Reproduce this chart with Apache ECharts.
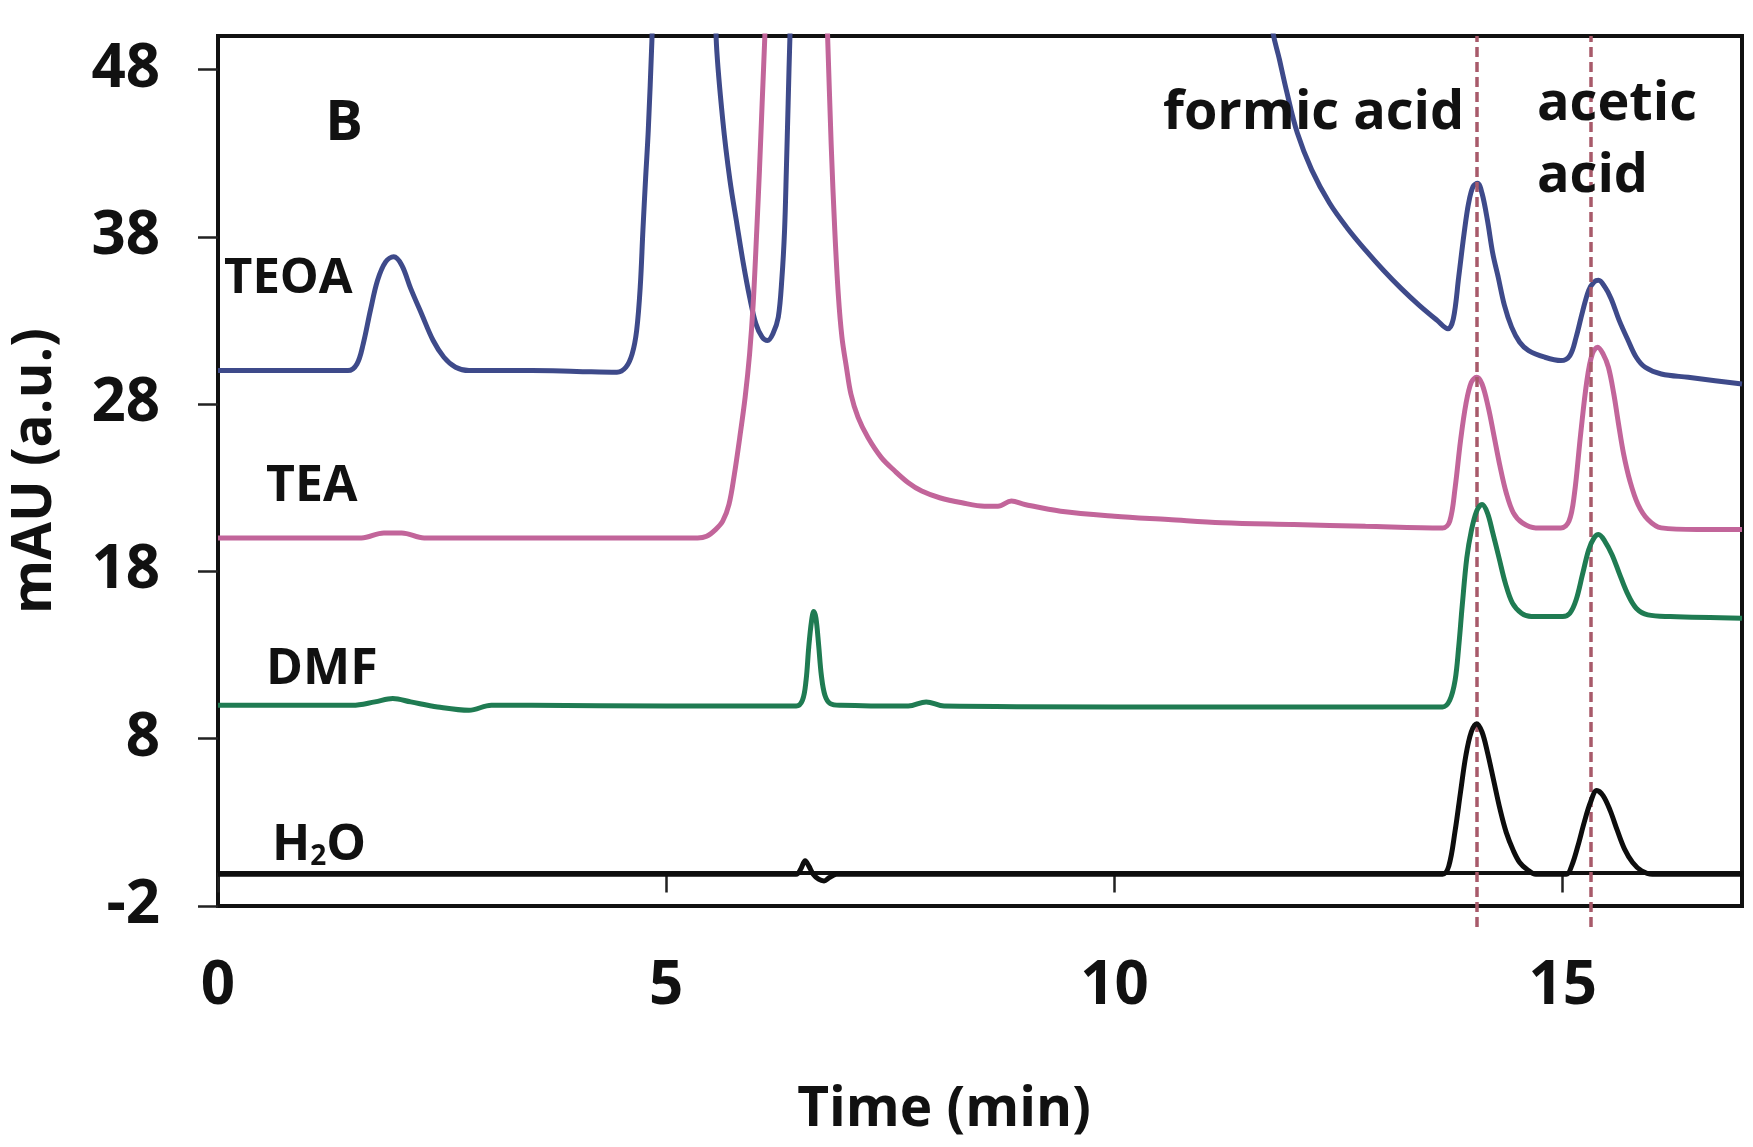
<!DOCTYPE html>
<html>
<head>
<meta charset="utf-8">
<script src="https://cdn.jsdelivr.net/npm/echarts@6/dist/echarts.min.js"></script>
<style>
html,body{margin:0;padding:0;background:#fff;}
#chart{width:1753px;height:1147px;}
</style>
</head>
<body>
<div id="chart"></div>
<script>
// ---- data (time in min, signal in mAU, offsets as plotted) ----
const xTicks = [0, 5, 10, 15];
const yTicks = [-2, 8, 18, 28, 38, 48];
const markerTimes = [14.05, 15.32];

const teoaTime = [0, 1.45, 1.55, 1.62, 1.70, 1.78, 1.87, 1.96, 2.05, 2.15, 2.27, 2.40, 2.52, 2.65, 2.80, 3.5, 4.0, 4.45, 4.55, 4.62, 4.67, 4.71, 4.74, 4.77, 4.80, 4.84, 4.88,
  5.52, 5.56, 5.63, 5.71, 5.79, 5.86, 5.93, 6.00, 6.07, 6.13, 6.19, 6.25, 6.29, 6.32, 6.34, 6.36, 6.38, 6.42,
  11.70, 11.76, 11.84, 11.92, 12.04, 12.20, 12.40, 12.60, 12.80, 13.00, 13.20, 13.40, 13.60, 13.72, 13.78, 13.84, 13.90, 13.95, 14.00, 14.05, 14.10, 14.16, 14.22, 14.28, 14.35, 14.43, 14.52, 14.62, 14.80, 14.98,
  15.08, 15.15, 15.22, 15.29, 15.35, 15.40, 15.47, 15.54, 15.63, 15.73, 15.82, 15.92, 16.10, 16.40, 16.70, 17.0];
const teoaSignal = [30.0, 30.0, 30.4, 31.6, 33.6, 35.4, 36.5, 36.8, 36.3, 34.9, 33.4, 31.8, 30.8, 30.2, 30.0, 30.0, 29.95, 29.9, 30.2, 31.0, 32.4, 35.0, 38.4, 41.5, 44.4, 49.7, 56,
  56, 49.5, 45.0, 41.4, 38.7, 36.4, 34.4, 32.8, 32.0, 31.8, 32.2, 33.2, 35.5, 38.4, 42, 46, 50, 56,
  56, 50.5, 48.6, 46.7, 44.2, 42.0, 40.0, 38.5, 37.2, 36.0, 34.9, 33.9, 33.0, 32.5, 33.1, 35.6, 38.2, 40.0, 41.0, 41.2, 40.6, 39.0, 37.0, 35.6, 33.9, 32.6, 31.7, 31.2, 30.8, 30.6,
  30.9, 32.0, 33.5, 34.8, 35.3, 35.4, 35.0, 34.3, 33.0, 31.8, 30.8, 30.2, 29.8, 29.6, 29.4, 29.2];

const teaTime = [0, 1.6, 1.85, 2.05, 2.3, 5.35, 5.45, 5.55, 5.63, 5.70, 5.76, 5.82, 5.88, 5.93, 5.97, 6.01, 6.04, 6.07, 6.10, 6.14,
  6.76, 6.80, 6.84, 6.88, 6.92, 6.96, 7.01, 7.06, 7.14, 7.25, 7.40, 7.55, 7.70, 7.85, 8.05, 8.30, 8.55, 8.70, 8.85, 9.00, 9.40, 10.0, 10.6, 11.2, 12.0, 12.8, 13.66,
  13.74, 13.80, 13.86, 13.92, 13.98, 14.04, 14.10, 14.17, 14.23, 14.30, 14.37, 14.45, 14.55, 14.70, 14.98,
  15.07, 15.13, 15.20, 15.27, 15.33, 15.39, 15.45, 15.51, 15.57, 15.62, 15.68, 15.75, 15.84, 15.95, 16.10, 16.50, 17.0];
const teaSignal = [20.0, 20.0, 20.3, 20.3, 20.0, 20.0, 20.1, 20.5, 21.0, 22.0, 23.8, 26.0, 28.4, 31.0, 34.0, 38.4, 42.0, 46.0, 50.0, 56,
  56, 50, 43.5, 38.4, 34.5, 32.0, 30.2, 28.6, 27.2, 26.0, 24.8, 24.0, 23.3, 22.8, 22.4, 22.1, 21.9, 21.9, 22.2, 22.0, 21.6, 21.3, 21.1, 20.9, 20.8, 20.7, 20.6,
  21.0, 23.0, 25.8, 28.0, 29.3, 29.6, 29.2, 27.8, 26.2, 24.3, 22.7, 21.5, 20.9, 20.6, 20.6,
  21.0, 22.6, 26.2, 29.4, 31.0, 31.4, 31.0, 30.2, 28.6, 26.9, 25.0, 23.4, 22.0, 21.1, 20.6, 20.5, 20.5];

const dmfTime = [0, 1.5, 1.75, 1.95, 2.15, 2.45, 2.8, 3.05, 3.5, 5.0, 6.45, 6.52, 6.56, 6.59, 6.62, 6.645, 6.67, 6.70, 6.73, 6.77, 6.83, 6.95, 7.7, 7.9, 8.1, 10.0, 13.66,
  13.74, 13.80, 13.84, 13.88, 13.93, 13.98, 14.04, 14.10, 14.16, 14.22, 14.29, 14.36, 14.44, 14.54, 14.65, 15.00,
  15.08, 15.15, 15.22, 15.29, 15.35, 15.40, 15.47, 15.55, 15.63, 15.72, 15.82, 15.95, 16.2, 17.0];
const dmfSignal = [10.0, 10.0, 10.2, 10.4, 10.2, 9.9, 9.7, 10.0, 10.0, 9.95, 9.95, 10.3, 11.5, 13.5, 15.0, 15.6, 15.2, 13.6, 11.8, 10.6, 10.1, 10.0, 9.95, 10.2, 9.95, 9.9, 9.9,
  10.3, 11.5, 13.5, 16.0, 18.8, 20.4, 21.6, 22.0, 21.5, 20.3, 18.8, 17.3, 16.1, 15.5, 15.3, 15.3,
  15.5, 16.3, 17.8, 19.3, 20.0, 20.2, 19.8, 19.0, 17.9, 16.7, 15.8, 15.4, 15.3, 15.2];

const waterTime = [0, 6.45, 6.50, 6.55, 6.59, 6.64, 6.70, 6.76, 6.82, 6.90, 13.66,
  13.73, 13.80, 13.86, 13.92, 13.98, 14.04, 14.10, 14.16, 14.23, 14.30, 14.37, 14.45, 14.52, 14.60, 14.70, 15.04,
  15.10, 15.17, 15.24, 15.31, 15.38, 15.45, 15.53, 15.61, 15.69, 15.78, 15.88, 16.0, 17.0];
const waterSignal = [-0.1, -0.1, 0.2, 0.7, 0.4, -0.1, -0.4, -0.5, -0.3, -0.1, -0.1,
  0.4, 2.5, 4.8, 7.0, 8.4, 8.9, 8.4, 7.2, 5.5, 3.8, 2.4, 1.3, 0.6, 0.2, -0.1, -0.1,
  0.4, 1.6, 3.0, 4.2, 4.9, 4.6, 3.7, 2.5, 1.4, 0.6, 0.1, -0.1, -0.1];

const seriesNames = ['TEOA', 'TEA', 'DMF', 'H2O'];
const seriesColors = ['#3e4a8a', '#c2659a', '#1f7b52', '#0d0d0d'];

// ---- chart ----
const FONT = '"Open Sans", Lato, sans-serif';
const zip = (a, b) => a.map((t, i) => [t, b[i]]);
const allData = [zip(teoaTime, teoaSignal), zip(teaTime, teaSignal), zip(dmfTime, dmfSignal), zip(waterTime, waterSignal)];

const chart = echarts.init(document.getElementById('chart'), null, {renderer: 'canvas'});

const lineSeries = allData.map((d, i) => ({
  name: seriesNames[i],
  type: 'line',
  xAxisIndex: 0, yAxisIndex: 0,
  data: d,
  showSymbol: false,
  smooth: 0.35,
  clip: true,
  lineStyle: {color: seriesColors[i], width: 5},
  itemStyle: {color: seriesColors[i]},
  z: 3 + i
}));

// reference lines live on an overlay grid whose y range reaches a little below the axis
const markerSeries = {
  type: 'line',
  xAxisIndex: 1, yAxisIndex: 1,
  data: [],
  silent: true,
  z: 10,
  markLine: {
    symbol: 'none',
    silent: true,
    label: {show: false},
    lineStyle: {color: '#a85a6a', width: 3.5, type: [10, 5], opacity: 1},
    data: markerTimes.map(t => [{coord: [t, -3.25]}, {coord: [t, 50]}])
  }
};

const axisText = {fontFamily: FONT, fontWeight: 'bold', color: '#111'};

const option = {
  backgroundColor: '#fff',
  animation: false,
  grid: [
    {left: 216, right: 11, top: 36, bottom: 241, show: true, borderColor: '#111', borderWidth: 4, backgroundColor: 'transparent'},
    {left: 216, right: 11, top: 36, bottom: 220, show: false}
  ],
  xAxis: [{
    gridIndex: 0, type: 'value', min: 0, max: 17,
    name: 'Time (min)', nameLocation: 'middle', nameGap: 177,
    nameTextStyle: Object.assign({fontSize: 55, padding: [0, 72, 0, 0]}, axisText),
    axisLine: {show: true, lineStyle: {color: '#111', width: 4}},
    axisTick: {show: true, inside: false, length: 20, lineStyle: {color: '#222', width: 2.5}, customValues: xTicks},
    axisLabel: Object.assign({fontSize: 60, margin: 51, customValues: xTicks}, axisText),
    splitLine: {show: false}
  }, {
    gridIndex: 1, type: 'value', min: 0, max: 17, show: false
  }],
  yAxis: [{
    gridIndex: 0, type: 'value', min: -2, max: 50,
    name: 'mAU (a.u.)', nameLocation: 'middle', nameGap: 155,
    nameTextStyle: Object.assign({fontSize: 55}, axisText),
    axisLine: {show: true, lineStyle: {color: '#111', width: 4}},
    axisTick: {show: true, inside: false, length: 20, lineStyle: {color: '#222', width: 2.5}, customValues: yTicks},
    axisLabel: Object.assign({fontSize: 60, margin: 58, customValues: yTicks}, axisText),
    splitLine: {show: false}
  }, {
    gridIndex: 1, type: 'value', min: -3.25, max: 50, show: false
  }],
  series: lineSeries.concat([markerSeries]),
  graphic: [
    {type: 'text', x: 344, y: 124, z: 20, style: {text: 'B', fontFamily: FONT, fontWeight: 'bold', fontSize: 56, fill: '#111', align: 'center', verticalAlign: 'middle'}},
    {type: 'text', x: 224, y: 279, z: 20, style: {text: 'TEOA', fontFamily: FONT, fontWeight: 'bold', fontSize: 49, fill: '#111', align: 'left', verticalAlign: 'middle'}},
    {type: 'text', x: 266, y: 487, z: 20, style: {text: 'TEA', fontFamily: FONT, fontWeight: 'bold', fontSize: 50, fill: '#111', align: 'left', verticalAlign: 'middle'}},
    {type: 'text', x: 266, y: 670, z: 20, style: {text: 'DMF', fontFamily: FONT, fontWeight: 'bold', fontSize: 50, fill: '#111', align: 'left', verticalAlign: 'middle'}},
    {type: 'text', x: 272, y: 846, z: 20, style: {
      text: 'H{sub|2}O', fontFamily: FONT, fontWeight: 'bold', fontSize: 50, fill: '#111', align: 'left', verticalAlign: 'middle',
      rich: {sub: {fontFamily: FONT, fontWeight: 'bold', fontSize: 28, fill: '#111', verticalAlign: 'bottom', lineHeight: 40}}
    }},
    {type: 'text', x: 1163, y: 114, z: 20, style: {text: 'formic acid', fontFamily: FONT, fontWeight: 'bold', fontSize: 54, fill: '#111', align: 'left', verticalAlign: 'middle'}},
    {type: 'text', x: 1537, y: 105, z: 20, style: {text: 'acetic', fontFamily: FONT, fontWeight: 'bold', fontSize: 54, fill: '#111', align: 'left', verticalAlign: 'middle'}},
    {type: 'text', x: 1537, y: 177, z: 20, style: {text: 'acid', fontFamily: FONT, fontWeight: 'bold', fontSize: 54, fill: '#111', align: 'left', verticalAlign: 'middle'}}
  ]
};
chart.setOption(option);
</script>
</body>
</html>
